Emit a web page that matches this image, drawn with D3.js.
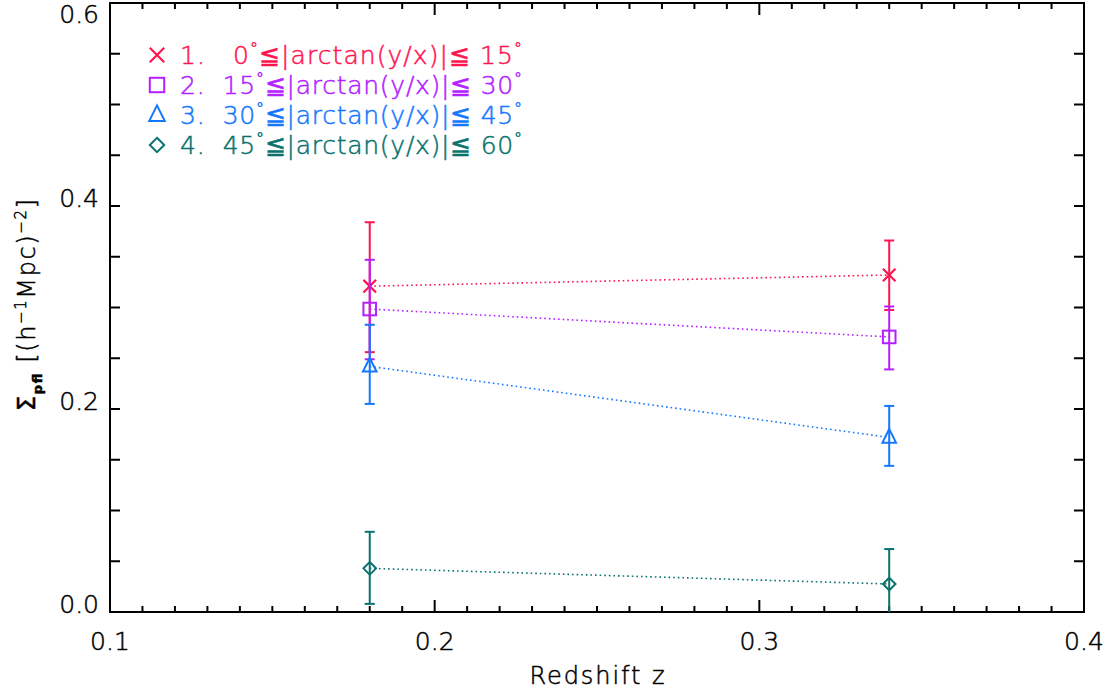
<!DOCTYPE html>
<html><head><meta charset="utf-8">
<script src="https://cdn.jsdelivr.net/npm/d3@7"></script>
<style>
body{margin:0;background:#fff;}
text{font-family:"DejaVu Sans",sans-serif;font-weight:200;stroke-width:0.5px;}
</style></head><body>
<svg id="c" width="1112" height="692"></svg>
<script>
const redshift = [0.18, 0.34];
const s1 = [0.321, 0.332], s1Lo = [0.256, 0.2975], s1Hi = [0.384, 0.366];
const s2 = [0.2985, 0.271], s2Lo = [0.249, 0.239], s2Hi = [0.347, 0.301];
const s3 = [0.242, 0.172], s3Lo = [0.205, 0.144], s3Hi = [0.283, 0.203];
const s4 = [0.043, 0.0276], s4Lo = [0.008, -0.005], s4Hi = [0.079, 0.062];
const legendLabels = [
  ["1.   0", "≦|arctan(y/x)|≦ 15"],
  ["2.  15", "≦|arctan(y/x)|≦ 30"],
  ["3.  30", "≦|arctan(y/x)|≦ 45"],
  ["4.  45", "≦|arctan(y/x)|≦ 60"]
];
const xTicks = [0.1, 0.2, 0.3, 0.4];
const yTicks = [0.0, 0.2, 0.4, 0.6];
const colors = ["#ff1450", "#b420ff", "#1478ff", "#08736e"];
const symbols = ["cross", "square", "triangle", "diamond"];

const series = [
  {v: s1, lo: s1Lo, hi: s1Hi},
  {v: s2, lo: s2Lo, hi: s2Hi},
  {v: s3, lo: s3Lo, hi: s3Hi},
  {v: s4, lo: s4Lo, hi: s4Hi}
];

const L = 110, R = 1084, T = 3, B = 612;
const x = d3.scaleLinear().domain([0.1, 0.4]).range([L, R]);
const y = d3.scaleLinear().domain([0, 0.6]).range([B, T]);
const svg = d3.select("#c");

svg.append("defs").append("clipPath").attr("id", "clip")
  .append("rect").attr("x", L).attr("y", T).attr("width", R - L).attr("height", B - T);

// frame
svg.append("rect").attr("x", L).attr("y", T).attr("width", R - L).attr("height", B - T)
  .attr("fill", "none").attr("stroke", "#000").attr("stroke-width", 2);

// x ticks
const xMinor = d3.range(0.1, 0.4001, 0.01);
xMinor.forEach(t => {
  const major = Math.abs(t * 10 - Math.round(t * 10)) < 1e-6;
  const len = major ? 12 : 6;
  const px = x(t);
  svg.append("line").attr("x1", px).attr("x2", px).attr("y1", B).attr("y2", B - len)
    .attr("stroke", "#000").attr("stroke-width", 2);
  svg.append("line").attr("x1", px).attr("x2", px).attr("y1", T).attr("y2", T + len)
    .attr("stroke", "#000").attr("stroke-width", 2);
});
// y ticks
d3.range(0, 0.6001, 0.05).forEach(t => {
  const py = y(t);
  svg.append("line").attr("x1", L).attr("x2", L + 10).attr("y1", py).attr("y2", py)
    .attr("stroke", "#000").attr("stroke-width", 2);
  svg.append("line").attr("x1", R).attr("x2", R - 10).attr("y1", py).attr("y2", py)
    .attr("stroke", "#000").attr("stroke-width", 2);
});

// tick labels
xTicks.forEach(t => {
  svg.append("text").attr("x", x(t)).attr("y", 650).attr("text-anchor", "middle")
    .attr("font-size", 25).attr("fill", "#000").attr("stroke", "#000").text(t.toFixed(1));
});
yTicks.forEach(t => {
  svg.append("text").attr("x", 99).attr("y", Math.max(y(t) + 1, 23)).attr("text-anchor", "end")
    .attr("font-size", 25).attr("fill", "#000").attr("stroke", "#000").text(t.toFixed(1));
});

// axis titles
svg.append("text").attr("x", (L + R) / 2).attr("y", 684).attr("text-anchor", "middle")
  .attr("font-size", 24).attr("fill", "#000").attr("stroke", "#000")
  .attr("textLength", 135).attr("lengthAdjust", "spacing").text("Redshift  z");

const yt = svg.append("text").attr("transform", "translate(35,305) rotate(-90)")
  .attr("text-anchor", "middle").attr("font-size", 24).attr("fill", "#000").attr("stroke", "#000")
  .attr("textLength", 212).attr("lengthAdjust", "spacing");
yt.append("tspan").attr("font-weight", 400).text("Σ");
yt.append("tspan").attr("font-size", 13).attr("font-weight", 700).attr("dy", 7).text("pfl");
yt.append("tspan").attr("dy", -7).text(" [(h");
yt.append("tspan").attr("font-size", 15).attr("dy", -9).text("−1");
yt.append("tspan").attr("dy", 9).text("Mpc)");
yt.append("tspan").attr("font-size", 15).attr("dy", -9).text("−2");
yt.append("tspan").attr("dy", 9).text("]");

// marker drawing
function marker(g, type, cx, cy, color, s) {
  if (type === "cross") {
    g.append("path").attr("d", `M${cx - s},${cy - s}L${cx + s},${cy + s}M${cx - s},${cy + s}L${cx + s},${cy - s}`)
      .attr("stroke", color).attr("stroke-width", 2.2).attr("fill", "none");
  } else if (type === "square") {
    g.append("rect").attr("x", cx - s).attr("y", cy - s).attr("width", 2 * s).attr("height", 2 * s)
      .attr("stroke", color).attr("stroke-width", 2).attr("fill", "none");
  } else if (type === "triangle") {
    g.append("path").attr("d", `M${cx},${cy - s * 1.33}L${cx + s * 1.08},${cy + s * 0.83}L${cx - s * 1.08},${cy + s * 0.83}Z`)
      .attr("stroke", color).attr("stroke-width", 2).attr("fill", "none");
  } else {
    g.append("path").attr("d", `M${cx},${cy - s}L${cx + s},${cy}L${cx},${cy + s}L${cx - s},${cy}Z`)
      .attr("stroke", color).attr("stroke-width", 2).attr("fill", "none");
  }
}

const plot = svg.append("g").attr("clip-path", "url(#clip)");
const line = d3.line().x((d, i) => x(redshift[i])).y(d => y(d));
series.forEach((s, k) => {
  const c = colors[k];
  plot.append("path").attr("d", line(s.v)).attr("fill", "none").attr("stroke", c)
    .attr("stroke-width", 1.6).attr("stroke-dasharray", "1.6,3");
});
series.forEach((s, k) => {
  const c = colors[k];
  s.v.forEach((v, i) => {
    const px = x(redshift[i]);
    plot.append("line").attr("x1", px).attr("x2", px).attr("y1", y(s.lo[i])).attr("y2", y(s.hi[i]))
      .attr("stroke", c).attr("stroke-width", 2);
    [s.lo[i], s.hi[i]].forEach(e => {
      plot.append("line").attr("x1", px - 5).attr("x2", px + 5).attr("y1", y(e)).attr("y2", y(e))
        .attr("stroke", c).attr("stroke-width", 2);
    });
    marker(plot, symbols[k], px, y(v), c, 6.3);
  });
});

// legend
legendLabels.forEach((lab, k) => {
  const cy = 55 + k * 30;
  marker(svg, symbols[k], 157, cy, colors[k], 7.2);
  const t = svg.append("text").attr("x", 180).attr("y", cy + 9).attr("font-size", 25)
    .attr("fill", colors[k]).attr("stroke", colors[k]).style("white-space", "pre")
    .attr("textLength", 342).attr("lengthAdjust", "spacing");
  t.append("tspan").text(lab[0]);
  t.append("tspan").attr("font-size", 16).attr("dy", -10).text("°");
  t.append("tspan").attr("dy", 10).text(lab[1]);
  t.append("tspan").attr("font-size", 16).attr("dy", -10).text("°");
});
</script>
</body></html>
